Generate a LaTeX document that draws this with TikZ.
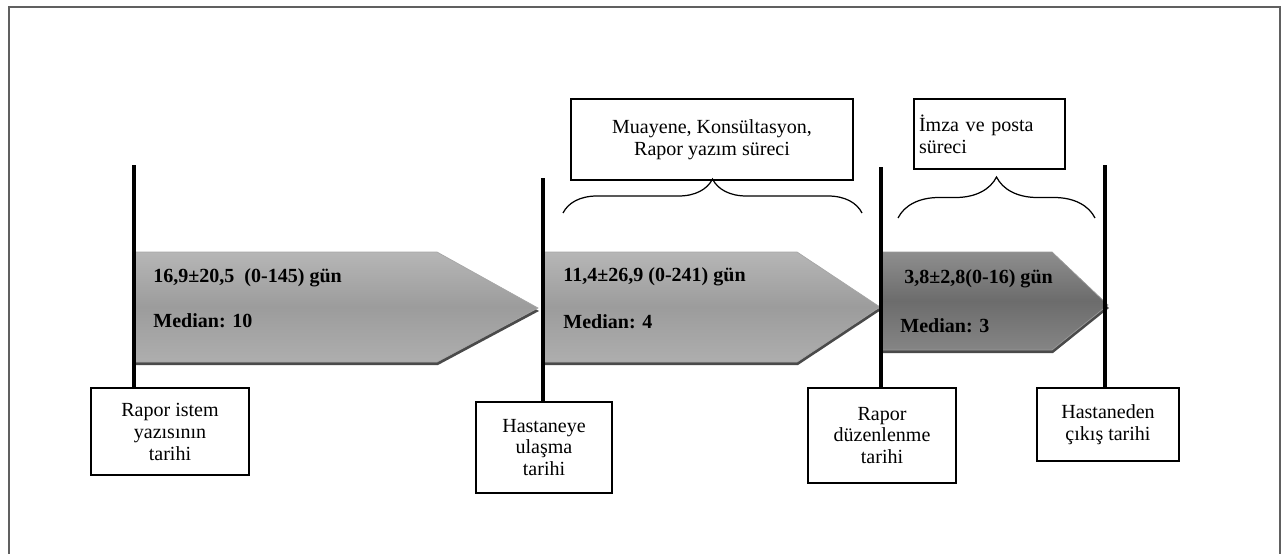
\documentclass[tikz,border=0pt]{standalone}
\usepackage{fontspec}
\setmainfont{Liberation Serif}
\usetikzlibrary{decorations.pathreplacing}
\definecolor{stagetop}{HTML}{B6B6B6}
\definecolor{stagemid}{HTML}{9C9C9C}
\definecolor{stagebot}{HTML}{AEAEAE}
\definecolor{lasttop}{HTML}{8E8E8E}
\definecolor{lastmid}{HTML}{6C6C6C}
\definecolor{lastbot}{HTML}{858585}
\definecolor{stageshadow}{HTML}{4A4A4A}
\begin{document}
\begin{tikzpicture}[x=0.02cm,y=-0.02cm,
    boxtext/.style={font=\fontsize{11.4}{12.5}\selectfont},
    datebox/.style={boxtext,draw,line width=0.8pt,align=center,inner sep=0pt},
    stagetext/.style={font=\fontsize{11.4}{12.5}\selectfont\bfseries,anchor=base west,inner sep=0pt},
    stage/.style={shade,top color=stagetop,bottom color=stagebot,middle color=stagemid,draw=gray!70,line width=0.4pt},
    laststage/.style={shade,top color=lasttop,bottom color=lastbot,middle color=lastmid,draw=gray!80,line width=0.4pt},
    timeline/.style={line width=2.3pt,black},
    phasebrace/.style={decorate,line width=0.7pt}]
    \useasboundingbox (0,0) rectangle (1284,554);
    \draw[line width=1.1pt,gray!75!black] (9,554) -- (9,7) -- (1280,7) -- (1280,554);
    % stages
    \fill[stageshadow,shift={(1,3)}] (133,252) -- (437,252) -- (538,308) -- (437,362) -- (133,362) -- cycle;
    \fill[stageshadow,shift={(1,3)}] (542,252) -- (797,252) -- (880,307) -- (797,362) -- (542,362) -- cycle;
    \fill[stageshadow,shift={(1,3)}] (880,252) -- (1052,252) -- (1108,305) -- (1052,350) -- (880,350) -- cycle;
    \path[stage] (133,252) -- (437,252) -- (538,308) -- (437,362) -- (133,362) -- cycle;
    \path[stage] (542,252) -- (797,252) -- (880,307) -- (797,362) -- (542,362) -- cycle;
    \path[laststage] (880,252) -- (1052,252) -- (1108,305) -- (1052,350) -- (880,350) -- cycle;
    \node[stagetext] (s1) at (153,282) {16,9±20,5\ \ (0-145) gün};
    \node[stagetext] (m1) at (153,327) {Median: 10};
    \node[stagetext] (s2) at (563,281) {11,4±26,9 (0-241) gün};
    \node[stagetext] (m2) at (563,328) {Median: 4};
    \node[stagetext] (s3) at (904,283) {3,8±2,8(0-16) gün};
    \node[stagetext] (m3) at (900,332) {Median: 3};
    % dates
    \node[datebox,minimum width=3.16cm,minimum height=1.74cm] (istem) at (170,431.5) {Rapor istem\\yazısının\\tarihi};
    \node[datebox,minimum width=2.72cm,minimum height=1.82cm] (ulasma) at (544,447.5) {Hastaneye\\ulaşma\\tarihi};
    \node[datebox,minimum width=2.96cm,minimum height=1.90cm] (duzen) at (882,435.5) {Rapor\\düzenlenme\\tarihi};
    \node[datebox,minimum width=2.84cm,minimum height=1.46cm] (cikis) at (1108,424.5) {Hastaneden\\çıkış tarihi};
    \coordinate (t1) at (134,165);
    \coordinate (t2) at (543,178);
    \coordinate (t3) at (881,167);
    \coordinate (t4) at (1105,165);
    \draw[timeline] (t1) -- (t1 |- istem.north);
    \draw[timeline] (t2) -- (t2 |- ulasma.north);
    \draw[timeline] (t3) -- (t3 |- duzen.north);
    \draw[timeline] (t4) -- (t4 |- cikis.north);
    % phases
    \node[datebox,minimum width=5.64cm,minimum height=1.62cm] (muayene) at (712,139.5) {Muayene, Konsültasyon,\\Rapor yazım süreci};
    \node[boxtext,draw,line width=0.8pt,align=left,inner xsep=0.1cm,inner ysep=0pt,text width=2.82cm,minimum height=1.40cm] (imza) at (989.5,134) {İmza ve posta\\süreci};
    \coordinate (b1) at (563,213);
    \coordinate (b2) at (862,213);
    \coordinate (b3) at (898,218);
    \coordinate (b4) at (1095,218);
    \draw[phasebrace,decoration={brace,amplitude=0.68cm}] (b1) -- (b2);
    \draw[phasebrace,decoration={brace,amplitude=0.82cm}] (b3) -- (b4);
\end{tikzpicture}
\end{document}
